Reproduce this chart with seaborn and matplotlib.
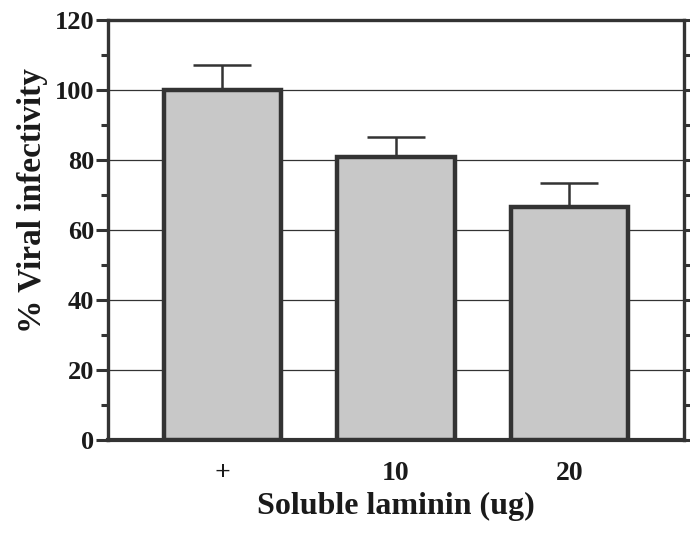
import matplotlib
matplotlib.use("Agg")
import matplotlib.pyplot as plt
import seaborn as sns
import pandas as pd
from matplotlib.ticker import MultipleLocator

# Viral infectivity after treatment with soluble laminin
categories = ["+", "10", "20"]
infectivity = [100.0, 81.0, 66.5]
sem = [7.0, 5.7, 6.8]

sns.set_theme(style="white")
plt.rcParams["font.family"] = ["Liberation Serif", "DejaVu Serif"]
plt.rcParams["font.weight"] = "bold"

df = pd.DataFrame({"dose": categories, "value": infectivity})

fig = plt.figure(figsize=(6.9, 5.36), dpi=100)
ax = fig.add_axes([0.1565, 0.179, 0.8348, 0.7837])

dark = "#333333"
sns.barplot(data=df, x="dose", y="value", ax=ax, color="#c8c8c8",
            saturation=1, width=0.675, edgecolor=dark, linewidth=3.2,
            errorbar=None, zorder=3)

# upper-only error bars
ax.errorbar(range(len(categories)), infectivity,
            yerr=[[0] * len(sem), sem], fmt="none", ecolor=dark,
            elinewidth=1.8, capsize=21, capthick=1.8, zorder=2)

ax.set_ylim(0, 120)
ax.set_xlim(-0.66, 2.66)
ax.yaxis.set_major_locator(MultipleLocator(20))
ax.yaxis.set_minor_locator(MultipleLocator(10))
for y in range(20, 120, 20):
    ax.axhline(y, color=dark, linewidth=0.9, zorder=1)

for side in ["left", "right", "top", "bottom"]:
    ax.spines[side].set_visible(True)
    ax.spines[side].set_color(dark)
    ax.spines[side].set_linewidth(2.4)
ax.spines["bottom"].set_linewidth(3.0)

ax.tick_params(axis="y", which="major", direction="out", length=9, width=2.2,
               color=dark, left=True, right=True, labelsize=19, pad=1)
ax.tick_params(axis="y", which="minor", direction="out", length=5, width=2.2,
               color=dark, left=True, right=True)
ax.tick_params(axis="x", bottom=False, labelsize=20, pad=9)
for lbl in ax.get_yticklabels() + ax.get_xticklabels():
    lbl.set_fontweight("bold")
    lbl.set_color("#1a1a1a")

ax.set_xlabel("Soluble laminin (ug)", fontsize=23, fontweight="bold",
              color="#1a1a1a", labelpad=4)
ax.set_ylabel("% Viral infectivity", fontsize=24, fontweight="bold",
              color="#1a1a1a")
ax.yaxis.set_label_coords(-0.105, 0.57)

fig.savefig("out.png", dpi=100)
